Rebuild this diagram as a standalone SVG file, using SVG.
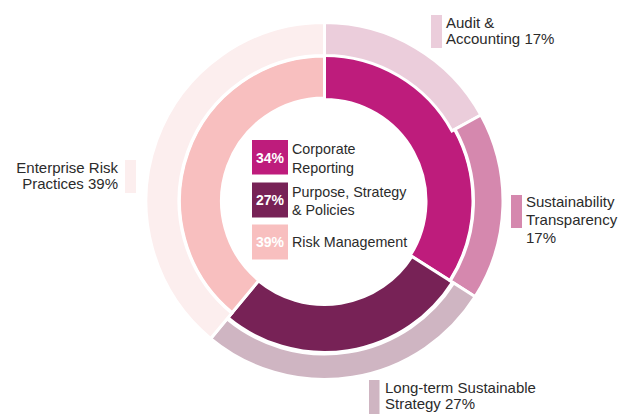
<svg xmlns="http://www.w3.org/2000/svg" width="627" height="414" viewBox="0 0 627 414">
<style>
.seg{stroke:#fff;stroke-width:3;stroke-linejoin:miter}
.lbl{font-family:"Liberation Sans",Arial,sans-serif;font-size:14.3px;fill:#2b2b2b}
.out{font-size:15px}
.pct{font-family:"Liberation Sans",Arial,sans-serif;font-size:14px;font-weight:bold;fill:#fff;text-anchor:middle}
</style>
<rect width="627" height="414" fill="#fff"/>
<g id="ring-inner">
<g id="corporate-reporting"><path class="seg" fill="#BE1C7C" d="M324.5,52.5 A148.5,148.5 0 0 1 449.88,280.57 L410.20,255.39 A101.5,101.5 0 0 0 324.5,99.5 Z"/></g>
<g id="purpose-strategy"><path class="seg" fill="#772256" d="M452.42,282.18 A151.5,151.5 0 0 1 227.93,317.73 L258.53,280.75 A103.5,103.5 0 0 0 411.89,256.46 Z"/></g>
<g id="risk-management"><path class="seg" fill="#F8BFBF" d="M232.07,312.72 A145,145 0 0 1 324.5,56 L324.5,98 A103,103 0 0 0 258.85,280.36 Z"/></g>
</g>
<g id="ring-outer">
<g id="audit"><path class="seg" fill="#EBCDDB" d="M324.5,22.5 A178.5,178.5 0 0 1 480.92,115.01 L452.00,130.91 A145.5,145.5 0 0 0 324.5,55.5 Z"/>
<rect x="431" y="15" width="11" height="33" fill="#EBCDDB"/>
<text class="lbl out" x="446" y="27.5">Audit &amp;</text>
<text class="lbl out" x="446" y="44">Accounting 17%</text></g>
<g id="sustainability"><path class="seg" fill="#D588AE" d="M480.92,115.01 A178.5,178.5 0 0 1 475.21,296.65 L450.31,280.84 A149,149 0 0 0 455.07,129.22 Z"/>
<rect x="511" y="195" width="11" height="33" fill="#D588AE"/>
<text class="lbl out" x="526" y="206.5">Sustainability</text>
<text class="lbl out" x="526" y="224.5">Transparency</text>
<text class="lbl out" x="526" y="243">17%</text></g>
<g id="long-term"><path class="seg" fill="#CFB5C2" d="M475.21,296.65 A178.5,178.5 0 0 1 210.72,338.54 L226.97,318.89 A153,153 0 0 0 453.68,282.98 Z"/>
<rect x="369" y="380" width="10.5" height="34" fill="#CFB5C2"/>
<text class="lbl out" x="385" y="392.5">Long-term Sustainable</text>
<text class="lbl out" x="385" y="409">Strategy 27%</text></g>
<g id="enterprise"><path class="seg" fill="#FCEEEE" d="M210.72,338.54 A178.5,178.5 0 0 1 324.5,22.5 L324.5,55.5 A145.5,145.5 0 0 0 231.76,313.11 Z"/>
<rect x="125" y="160" width="11" height="33" fill="#FCEEEE"/>
<text class="lbl out" x="118" y="172.5" text-anchor="end">Enterprise Risk</text>
<text class="lbl out" x="118" y="188.5" text-anchor="end">Practices 39%</text></g>
</g>
<g id="legend">
<g id="legend-34"><rect x="252" y="140" width="36" height="34.5" fill="#BE1C7C"/><text class="pct" x="270" y="162.5">34%</text>
<text class="lbl" x="292" y="154">Corporate</text><text class="lbl" x="292" y="172.5">Reporting</text></g>
<g id="legend-27"><rect x="252" y="182.5" width="36" height="35" fill="#772256"/><text class="pct" x="270" y="205">27%</text>
<text class="lbl" x="292" y="196.5">Purpose, Strategy</text><text class="lbl" x="292" y="214.5">&amp; Policies</text></g>
<g id="legend-39"><rect x="252" y="224.5" width="36" height="35" fill="#F8BFBF"/><text class="pct" x="270" y="246.5">39%</text>
<text class="lbl" x="292" y="246.5">Risk Management</text></g>
</g>
<g id="connectors"/>
</svg>
